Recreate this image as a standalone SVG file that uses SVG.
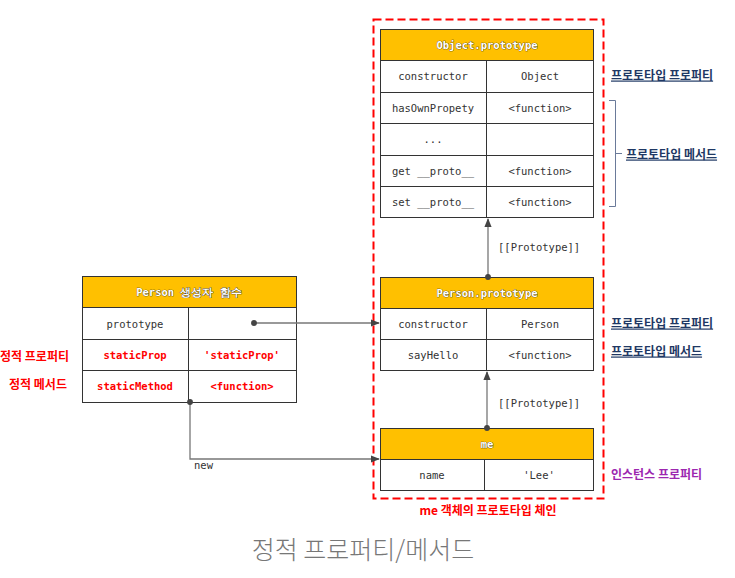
<svg xmlns="http://www.w3.org/2000/svg" width="735" height="578" viewBox="0 0 735 578">
<defs>
<style>
.cell{fill:#fff;stroke:#333;stroke-width:1}
.hdr{fill:#FFC000;stroke:#333;stroke-width:1}
.div{stroke:#333;stroke-width:1}
.mono{font-family:"DejaVu Sans Mono","Liberation Mono",monospace;font-size:10.5px;fill:#333;text-anchor:middle;dominant-baseline:central}
.ht{font-family:"DejaVu Sans Mono","Liberation Mono",monospace;font-size:10.5px;font-weight:bold;fill:#fff;stroke:#222;stroke-width:0.6;paint-order:stroke;text-anchor:middle;dominant-baseline:central}
.red{font-family:"DejaVu Sans Mono","Liberation Mono",monospace;font-size:10.5px;font-weight:bold;fill:#FF0000;text-anchor:middle;dominant-baseline:central}
.kr{font-family:"Noto Sans CJK KR","Noto Sans",sans-serif;font-size:12px;font-weight:bold;dominant-baseline:central}
.navy{fill:#1F3864;text-decoration:underline}
.conn{stroke:#777;stroke-width:1.3;fill:none}
.lbl{font-family:"DejaVu Sans Mono","Liberation Mono",monospace;font-size:10.5px;fill:#333;dominant-baseline:central}
</style>
<marker id="arr" viewBox="0 0 10 10" refX="9" refY="5" markerWidth="7" markerHeight="7" orient="auto-start-reverse"><path d="M0,1 L10,5 L0,9 z" fill="#444"/></marker>
<marker id="dot" viewBox="0 0 10 10" refX="5" refY="5" markerWidth="5" markerHeight="5"><circle cx="5" cy="5" r="4.5" fill="#444"/></marker>
</defs>
<rect width="735" height="578" fill="#fff"/>

<rect x="373.5" y="19.5" width="230" height="479" fill="none" stroke="#FF0000" stroke-width="2" stroke-dasharray="8,4"/>

<g id="object-prototype">
<rect class="hdr" x="380.5" y="29.5" width="213" height="31"/>
<text class="ht" x="487" y="45">Object.prototype</text>
<rect class="cell" x="380.5" y="60.5" width="213" height="157"/>
<path class="div" d="M380.5,92.5H593.5M380.5,123.5H593.5M380.5,155.5H593.5M380.5,186.5H593.5M486.5,60.5V217.5"/>
<text class="mono" x="433" y="76">constructor</text><text class="mono" x="540" y="76">Object</text>
<text class="mono" x="433" y="108">hasOwnPropety</text><text class="mono" x="540" y="108">&lt;function&gt;</text>
<text class="mono" x="433" y="139">...</text>
<text class="mono" x="433" y="171">get __proto__</text><text class="mono" x="540" y="171">&lt;function&gt;</text>
<text class="mono" x="433" y="202">set __proto__</text><text class="mono" x="540" y="202">&lt;function&gt;</text>
</g>

<g id="person-prototype">
<rect class="hdr" x="380.5" y="277.5" width="213" height="31"/>
<text class="ht" x="487" y="293">Person.prototype</text>
<rect class="cell" x="380.5" y="308.5" width="213" height="62"/>
<path class="div" d="M380.5,339.5H593.5M486.5,308.5V370.5"/>
<text class="mono" x="433" y="324">constructor</text><text class="mono" x="540" y="324">Person</text>
<text class="mono" x="433" y="355">sayHello</text><text class="mono" x="540" y="355">&lt;function&gt;</text>
</g>

<g id="me">
<rect class="hdr" x="380.5" y="428.5" width="213" height="31"/>
<text class="ht" x="487" y="444" font-size="8">me</text>
<rect class="cell" x="380.5" y="459.5" width="213" height="31"/>
<path class="div" d="M484.5,459.5V490.5"/>
<text class="mono" x="432" y="475">name</text><text class="mono" x="539" y="475">'Lee'</text>
</g>

<g id="person-constructor">
<rect class="hdr" x="82.5" y="276.5" width="214" height="31"/>
<text class="ht" x="189" y="292" font-family="'DejaVu Sans Mono','Noto Sans CJK KR',monospace">Person 생성자 함수</text>
<rect class="cell" x="82.5" y="307.5" width="214" height="95"/>
<path class="div" d="M82.5,339.5H296.5M82.5,370.5H296.5M188.5,307.5V402.5"/>
<text class="mono" x="135" y="324">prototype</text>
<text class="red" x="135" y="355">staticProp</text><text class="red" x="242" y="355">'staticProp'</text>
<text class="red" x="135" y="386">staticMethod</text><text class="red" x="242" y="386">&lt;function&gt;</text>
</g>

<g id="connectors">
<path class="conn" d="M488,277 V219" marker-start="url(#dot)" marker-end="url(#arr)"/>
<path class="conn" d="M487,428 V372" marker-start="url(#dot)" marker-end="url(#arr)"/>
<path class="conn" d="M254,323 H379" marker-start="url(#dot)" marker-end="url(#arr)"/>
<path class="conn" d="M190,402 V459 H379" marker-start="url(#dot)" marker-end="url(#arr)"/>
<text class="lbl" x="498" y="247">[[Prototype]]</text>
<text class="lbl" x="498" y="403">[[Prototype]]</text>
<text class="lbl" x="194" y="465" font-size="10">new</text>
</g>

<g id="labels">
<text class="kr" x="0" y="355" fill="#FF0000">정적 프로퍼티</text>
<text class="kr" x="9" y="383" fill="#FF0000">정적 메서드</text>
<text class="kr navy" x="611" y="74">프로토타입 프로퍼티</text>
<path d="M609,100.5H615.5V206.5H609M615.5,153.5H622" fill="none" stroke="#6a7a99" stroke-width="1"/>
<text class="kr navy" x="626" y="153">프로토타입 메서드</text>
<text class="kr navy" x="611" y="322">프로토타입 프로퍼티</text>
<text class="kr navy" x="611" y="350">프로토타입 메서드</text>
<text class="kr" x="611" y="473" fill="#9C27B0">인스턴스 프로퍼티</text>
<text class="kr" x="488" y="509" fill="#FF0000" text-anchor="middle">me 객체의 프로토타입 체인</text>
<text x="363" y="548" font-family="'Noto Sans CJK KR','Noto Sans',sans-serif" font-size="25" font-weight="300" fill="#777" text-anchor="middle" dominant-baseline="central">정적 프로퍼티/메서드</text>
</g>
</svg>
